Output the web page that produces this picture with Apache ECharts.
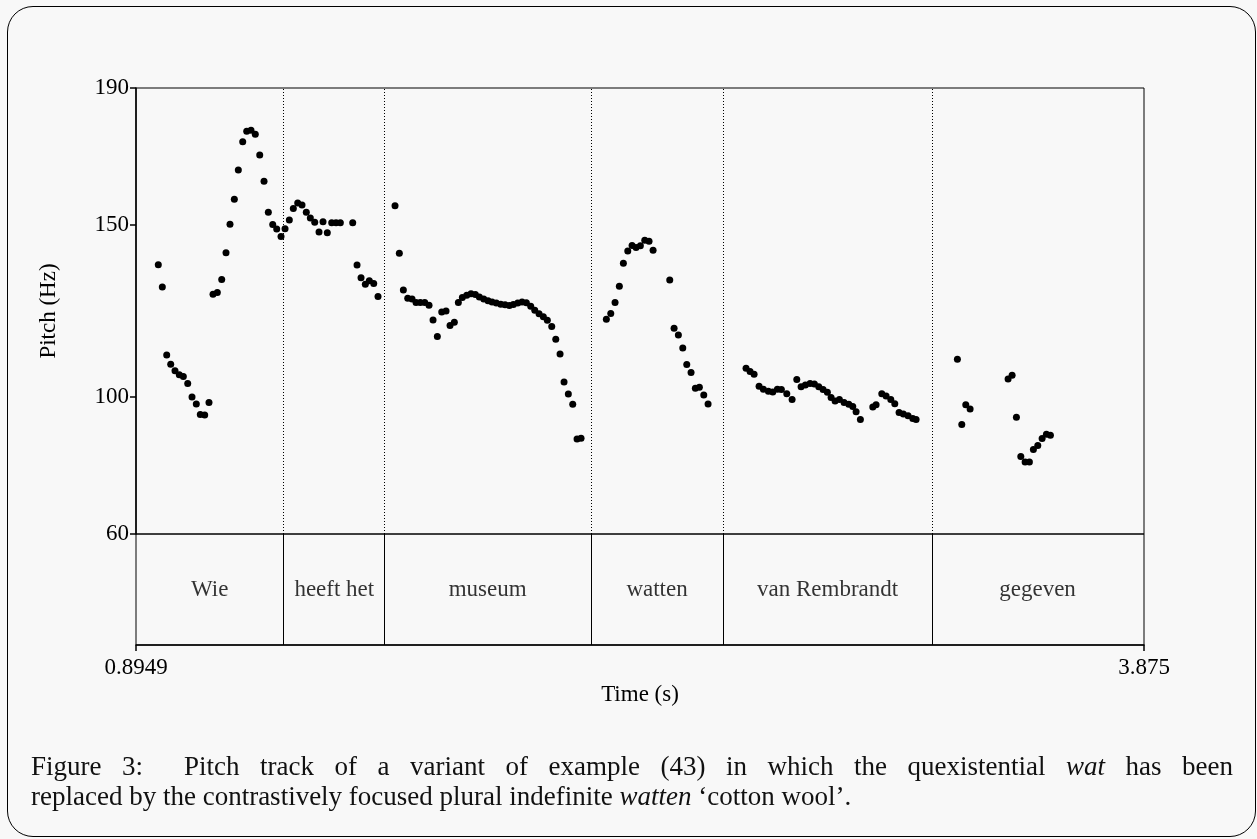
<!DOCTYPE html>
<html>
<head>
<meta charset="utf-8">
<script src="https://cdn.jsdelivr.net/npm/echarts@6/dist/echarts.min.js"></script>
<style>
  html, body { margin: 0; padding: 0; background: #f8f8f8; }
  #page { position: relative; width: 1257px; height: 839px; overflow: hidden; }
  #chart { position: absolute; left: 0; top: 0; width: 1257px; height: 839px; }
  #frame { position: absolute; left: 7px; top: 6px; width: 1249px; height: 831px; box-sizing: border-box;
           border: 1.5px solid #000; border-radius: 26px; pointer-events: none; }
  .cap { position: absolute; left: 31px; width: 1202px; font-family: "Liberation Serif", serif;
         font-size: 27px; line-height: 30px; color: #111; white-space: nowrap; }
  #cap1 { top: 751px; text-align: justify; text-align-last: justify; white-space: normal; }
  #cap2 { top: 781px; }
</style>
</head>
<body>
<div id="page">
  <div id="chart"></div>
  <div id="frame"></div>
  <div class="cap" id="cap1">Figure 3: &nbsp;Pitch track of a variant of example (43) in which the quexistential <i>wat</i> has been</div>
  <div class="cap" id="cap2">replaced by the contrastively focused plural indefinite <i>watten</i> ‘cotton wool’.</div>
</div>
<script>
// word tier
const words = ['Wie', 'heeft het', 'museum', 'watten', 'van Rembrandt', 'gegeven'];
const wordEdges = [0.8949, 1.3304, 1.6320, 2.2373, 2.6335, 3.2456, 3.875];

// axis ticks
const timeTicks = [0.8949, 3.875];
const pitchTicks = [60, 100, 150, 190];

// pitch track, [time (s), pitch (Hz)] per word
const trackWie = [
  [0.9608,138.5],[0.9727,132.0],[0.9857,112.2],[0.9975,109.5],[1.0102,107.6],[1.0229,106.4],
  [1.0348,105.9],[1.0478,103.9],[1.0605,99.9],[1.0732,97.9],[1.0850,94.8],[1.0980,94.7],
  [1.1107,98.3],[1.1226,129.9],[1.1353,130.4],[1.1483,134.2],[1.1610,142.0],[1.1728,150.3],
  [1.1856,157.6],[1.1974,166.1],[1.2104,174.3],[1.2222,177.4],[1.2349,177.7],[1.2476,176.5],
  [1.2607,170.5],[1.2734,162.8],[1.2861,153.8],[1.2991,150.2],[1.3109,148.9],[1.3236,146.7]
];
const trackHeeftHet = [
  [1.3355,149.0],[1.3482,151.5],[1.3600,154.9],[1.3730,156.5],[1.3857,155.9],[1.3984,153.8],
  [1.4103,152.1],[1.4233,150.9],[1.4360,148.0],[1.4478,151.0],[1.4605,147.8],[1.4735,150.7],
  [1.4863,150.7],[1.4990,150.7],[1.5356,150.7],[1.5484,138.4],[1.5602,134.7],[1.5729,132.8],
  [1.5847,133.8],[1.5977,133.0],[1.6104,129.2]
];
const trackMuseum = [
  [1.6607,155.7],[1.6734,141.8],[1.6853,131.1],[1.6983,128.7],[1.7110,128.5],[1.7228,127.5],
  [1.7355,127.5],[1.7485,127.5],[1.7612,126.7],[1.7731,122.4],[1.7858,117.6],[1.7988,124.7],
  [1.8115,125.0],[1.8233,120.8],[1.8360,121.7],[1.8479,127.5],[1.8597,128.9],[1.8727,129.6],
  [1.8854,130.0],[1.8981,129.8],[1.9100,129.1],[1.9230,128.5],[1.9357,128.0],[1.9475,127.6],
  [1.9602,127.3],[1.9733,127.0],[1.9860,126.8],[1.9987,126.6],[2.0105,126.9],[2.0235,127.3],
  [2.0362,127.6],[2.0489,127.4],[2.0619,126.4],[2.0738,125.2],[2.0865,124.2],[2.0992,123.3],
  [2.1110,122.3],[2.1240,120.5],[2.1359,116.8],[2.1486,112.5],[2.1604,104.3],[2.1731,100.8],
  [2.1861,97.8],[2.1988,87.7],[2.2107,87.9]
];
const trackWatten = [
  [2.2855,122.6],[2.2985,124.3],[2.3112,127.5],[2.3239,132.2],[2.3358,138.9],[2.3488,142.5],
  [2.3615,144.1],[2.3733,143.5],[2.3860,144.0],[2.3990,145.6],[2.4117,145.3],[2.4236,142.7],
  [2.4729,134.0],[2.4857,120.0],[2.4984,118.0],[2.5114,114.2],[2.5232,109.4],[2.5359,107.1],
  [2.5486,102.5],[2.5605,102.8],[2.5735,100.5],[2.5862,97.9]
];
const trackVanRembrandt = [
  [2.6985,108.3],[2.7104,107.4],[2.7222,106.6],[2.7370,103.1],[2.7497,102.2],[2.7645,101.6],
  [2.7775,101.4],[2.7911,102.2],[2.8029,102.1],[2.8189,100.9],[2.8346,99.2],[2.8485,105.0],
  [2.8612,102.9],[2.8739,103.4],[2.8878,103.9],[2.9005,103.7],[2.9135,102.9],[2.9262,102.1],
  [2.9389,101.3],[2.9499,99.8],[2.9617,98.8],[2.9744,99.2],[2.9883,98.3],[3.0022,97.8],
  [3.0140,97.2],[3.0238,95.6],[3.0365,93.4],[3.0732,97.0],[3.0829,97.7],[3.0998,100.9],
  [3.1125,100.2],[3.1264,99.2],[3.1382,98.0],[3.1509,95.4],[3.1636,95.0],[3.1775,94.5],
  [3.1914,93.7],[3.2012,93.4]
];
const trackGegeven = [
  [3.3233,110.9],[3.3363,91.9],[3.3481,97.7],[3.3609,96.4],[3.4732,105.2],[3.4851,106.3],
  [3.4978,94.0],[3.5108,82.6],[3.5235,81.0],[3.5362,81.0],[3.5480,84.6],[3.5610,85.8],
  [3.5738,87.8],[3.5865,89.1],[3.5983,88.8]
];

const font = 'Liberation Serif';
const pitchData = [].concat(trackWie, trackHeeftHet, trackMuseum, trackWatten, trackVanRembrandt, trackGegeven);
const innerEdges = wordEdges.slice(1, -1);
const wordData = words.map((w, i) => [(wordEdges[i] + wordEdges[i + 1]) / 2, 0.5, w]);

let chart = echarts.init(document.getElementById('chart'));
let option = {
  animation: false,
  grid: [
    { left: 136, right: 113, top: 88, height: 446, show: true, borderColor: '#000', borderWidth: 1,
      outerBoundsMode: 'none' },
    { left: 136, right: 113, top: 534, height: 111, show: true, borderColor: '#000', borderWidth: 1,
      outerBoundsMode: 'none' }
  ],
  xAxis: [
    { gridIndex: 0, type: 'value', min: 0.8949, max: 3.875, show: false },
    {
      gridIndex: 1, type: 'value', min: 0.8949, max: 3.875,
      axisLine: { show: true, lineStyle: { color: '#000', width: 1.5 } },
      axisTick: { show: true, customValues: timeTicks, length: 6, lineStyle: { color: '#000', width: 1.5 } },
      axisLabel: { customValues: timeTicks, color: '#000', fontFamily: font, fontSize: 23, margin: 11,
                   formatter: v => String(v) },
      splitLine: { show: false },
      name: 'Time (s)', nameLocation: 'middle', nameGap: 38,
      nameTextStyle: { color: '#000', fontFamily: font, fontSize: 23 }
    }
  ],
  yAxis: [
    {
      gridIndex: 0, type: 'value', min: 60, max: 190,
      axisLine: { show: true, lineStyle: { color: '#000', width: 1.5 } },
      axisTick: { show: true, customValues: pitchTicks, length: 6, lineStyle: { color: '#000', width: 1.5 } },
      axisLabel: { customValues: pitchTicks, color: '#000', fontFamily: font, fontSize: 23, margin: 7 },
      splitLine: { show: false },
      name: 'Pitch (Hz)', nameLocation: 'middle', nameRotate: 90, nameGap: 76,
      nameTextStyle: { color: '#000', fontFamily: font, fontSize: 23 }
    },
    { gridIndex: 1, type: 'value', min: 0, max: 1, show: false }
  ],
  series: [
    {
      type: 'scatter', xAxisIndex: 0, yAxisIndex: 0,
      data: pitchData, symbolSize: 7,
      itemStyle: { color: '#000', opacity: 1 },
      markLine: {
        silent: true, symbol: ['none', 'none'], label: { show: false },
        lineStyle: { color: '#000', type: [1, 2], width: 1, opacity: 1 },
        data: innerEdges.map(t => ({ xAxis: t }))
      }
    },
    {
      type: 'scatter', xAxisIndex: 1, yAxisIndex: 1,
      data: wordData, symbolSize: 0,
      label: { show: true, position: 'inside', formatter: p => p.data[2],
               color: '#000', fontFamily: font, fontSize: 23 },
      markLine: {
        silent: true, symbol: ['none', 'none'], label: { show: false },
        lineStyle: { color: '#000', type: 'solid', width: 1, opacity: 1 },
        data: innerEdges.map(t => ({ xAxis: t }))
      }
    }
  ]
};
chart.setOption(option);
</script>
</body>
</html>
